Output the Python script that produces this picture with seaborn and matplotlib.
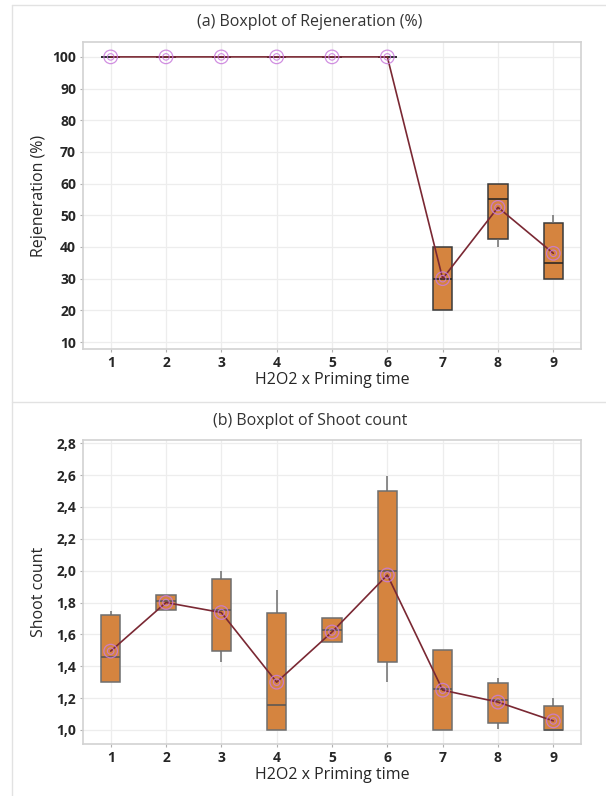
import numpy as np
import pandas as pd
import matplotlib
matplotlib.use("Agg")
import matplotlib.pyplot as plt
from matplotlib.lines import Line2D
from matplotlib.ticker import FuncFormatter
import seaborn as sns

# ---------------- data ----------------
groups = ["1", "2", "3", "4", "5", "6", "7", "8", "9"]

# Rejeneration (%) five-number summaries per group and means
regen_min = [100, 100, 100, 100, 100, 100, 20, 40, 30]
regen_q1 = [100, 100, 100, 100, 100, 100, 20, 42.5, 30]
regen_med = [100, 100, 100, 100, 100, 100, 30, 55, 35]
regen_q3 = [100, 100, 100, 100, 100, 100, 40, 60, 47.5]
regen_max = [100, 100, 100, 100, 100, 100, 40, 60, 50]
regen_mean = [100, 100, 100, 100, 100, 100, 30, 52.5, 38]

# Shoot count five-number summaries per group and means
shoot_min = [1.30, 1.754, 1.425, 1.00, 1.554, 1.30, 1.00, 1.004, 1.00]
shoot_q1 = [1.30, 1.754, 1.493, 1.00, 1.554, 1.427, 1.00, 1.042, 1.00]
shoot_med = [1.459, 1.808, 1.756, 1.154, 1.625, 1.998, 1.255, 1.187, 1.00]
shoot_q3 = [1.72, 1.85, 1.95, 1.735, 1.70, 2.50, 1.50, 1.297, 1.149]
shoot_max = [1.747, 1.85, 1.998, 1.878, 1.70, 2.596, 1.50, 1.328, 1.20]
shoot_mean = [1.495, 1.80, 1.737, 1.30, 1.615, 1.973, 1.25, 1.175, 1.057]

regen_ticks = [10, 20, 30, 40, 50, 60, 70, 80, 90, 100]
shoot_ticks = [1.0, 1.2, 1.4, 1.6, 1.8, 2.0, 2.2, 2.4, 2.6, 2.8]

title_a = "(a) Boxplot of Rejeneration (%)"
title_b = "(b) Boxplot of Shoot count"
xlabel = "H2O2 x Priming time"
ylabel_a = "Rejeneration (%)"
ylabel_b = "Shoot count"


def long_form(mins, q1s, meds, q3s, maxs):
    rows = []
    for g, a, b, c, d, e in zip(groups, mins, q1s, meds, q3s, maxs):
        for v in (a, b, c, d, e):
            rows.append({"group": g, "value": v})
    return pd.DataFrame(rows)


regen_df = long_form(regen_min, regen_q1, regen_med, regen_q3, regen_max)
shoot_df = long_form(shoot_min, shoot_q1, shoot_med, shoot_q3, shoot_max)

# ---------------- style ----------------
sns.set_theme(style="white")
plt.rcParams["font.family"] = ["Open Sans", "DejaVu Sans"]

BOX_FILL = "#D5843F"
LINE_COL = "#7A2833"
MEAN_COL = "#C97CDC"
GRID_COL = "#EDEDED"
SPINE_COL = "#D2D2D2"
TEXT_COL = "#262626"

fig = plt.figure(figsize=(6.06, 7.96), dpi=100)
W, H = 606.0, 796.0


def px_axes(left, top, right, bottom):
    return fig.add_axes([left / W, 1 - bottom / H, (right - left) / W, (bottom - top) / H])


ax1 = px_axes(83, 42, 581, 349)
ax2 = px_axes(83, 440, 581, 744)


def draw_panel(ax, df, means, edge, median_col):
    sns.boxplot(data=df, x="group", y="value", order=groups, ax=ax,
                width=0.35, color=BOX_FILL, saturation=1, showcaps=False,
                fliersize=0, whis=1.5, linewidth=1.1, linecolor=edge,
                medianprops={"color": median_col, "linewidth": 1.1},
                boxprops={"zorder": 2}, whiskerprops={"color": "#6e6e6e"})
    pos = np.arange(len(groups))
    sns.lineplot(x=pos, y=means, ax=ax, color=LINE_COL, linewidth=1.2,
                 zorder=3, legend=False)
    sns.scatterplot(x=pos, y=means, ax=ax, s=95, marker="o",
                    facecolor="none", edgecolor=MEAN_COL, linewidth=0.9,
                    alpha=0.85, zorder=4, legend=False)
    sns.scatterplot(x=pos, y=means, ax=ax, s=22, marker="o",
                    facecolor="none", edgecolor=MEAN_COL, linewidth=0.8,
                    alpha=0.85, zorder=4, legend=False)
    ax.set_xlim(-0.5, len(groups) - 0.5)
    ax.grid(True, color=GRID_COL, linewidth=0.9, zorder=0)
    ax.set_axisbelow(True)
    for sp in ax.spines.values():
        sp.set_color(SPINE_COL)
        sp.set_linewidth(1.2)
    ax.tick_params(axis="both", which="both", length=2.5, width=0.8,
                   color="#B0B0B0", pad=2.5, labelsize=10, labelcolor=TEXT_COL,
                   left=True, bottom=True)
    ax.set_xlabel(xlabel, fontsize=11.5, color=TEXT_COL)
    ax.xaxis.set_label_coords(0.5, -0.075)


draw_panel(ax1, regen_df, regen_mean, "#3a3a3a", "#222222")
ax1.set_ylim(7.8, 104.7)
ax1.set_yticks(regen_ticks)
ax1.set_ylabel(ylabel_a, fontsize=11.5, color=TEXT_COL)
ax1.yaxis.set_label_coords(-0.072, 0.5)

draw_panel(ax2, shoot_df, shoot_mean, "#6e6e6e", "#555555")
ax2.set_ylim(0.912, 2.82)
ax2.set_yticks(shoot_ticks)
ax2.yaxis.set_major_formatter(FuncFormatter(lambda v, p: f"{v:.1f}".replace(".", ",")))
ax2.set_ylabel(ylabel_b, fontsize=11.5, color=TEXT_COL)
ax2.yaxis.set_label_coords(-0.072, 0.5)

for ax in (ax1, ax2):
    ax.set_xticks(range(len(groups)))
    ax.set_xticklabels(groups)
    for lab in ax.get_xticklabels() + ax.get_yticklabels():
        lab.set_fontweight("bold")
        lab.set_fontsize(10)
        lab.set_color(TEXT_COL)

# titles
fig.text(310 / W, 1 - 22 / H, title_a, ha="center", va="center", fontsize=11.5, color="#333333")
fig.text(310 / W, 1 - 421 / H, title_b, ha="center", va="center", fontsize=11.5, color="#333333")

# panel frame lines
frame_kw = dict(transform=fig.transFigure, color="#E2E2E2", linewidth=1.0)
fig.add_artist(Line2D([12 / W, 1.0], [1 - 5 / H, 1 - 5 / H], **frame_kw))
fig.add_artist(Line2D([12 / W, 1.0], [1 - 402 / H, 1 - 402 / H], **frame_kw))
fig.add_artist(Line2D([12 / W, 12 / W], [0.0, 1 - 5 / H], **frame_kw))

fig.savefig("out.png", dpi=100)
